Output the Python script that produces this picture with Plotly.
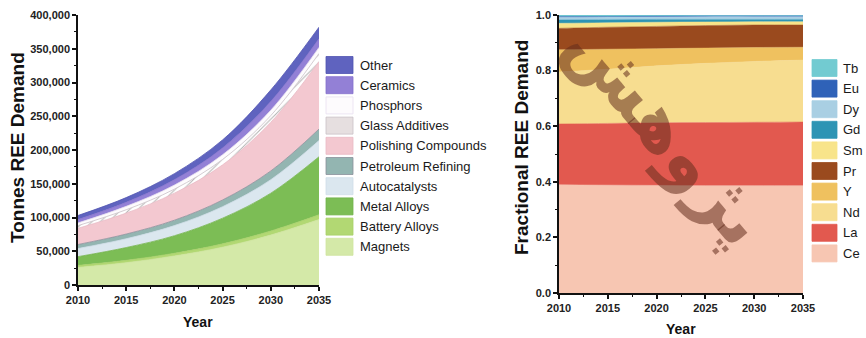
import plotly.graph_objects as go

# ---- data -----------------------------------------------------------------
years = [2010, 2015, 2020, 2025, 2030, 2035]

# Tonnes of rare-earth demand by end use (stacked, bottom to top)
magnets = [26000, 33000, 43000, 56000, 74000, 97000]
battery_alloys = [3000, 3500, 4000, 5000, 6000, 7000]
metal_alloys = [13000, 19000, 26000, 38000, 56000, 86000]
autocatalysts = [12000, 13000, 15000, 17000, 20000, 24000]
petroleum_refining = [6000, 7000, 8000, 10000, 13000, 17000]
polishing_compounds = [24000, 31000, 40000, 52000, 72000, 100000]
glass_additives = [4000, 5000, 6000, 8000, 10000, 12000]
phosphors = [4000, 5000, 6000, 7000, 8000, 9000]
ceramics = [5000, 6000, 8000, 10000, 13000, 13000]
other = [6000, 7000, 9000, 12000, 17000, 17000]

# Fraction of total demand by element (stacked, bottom to top)
ce = [0.389, 0.388, 0.387, 0.386, 0.386, 0.386]
la = [0.219, 0.222, 0.225, 0.227, 0.228, 0.229]
nd = [0.187, 0.195, 0.205, 0.213, 0.219, 0.223]
y_el = [0.080, 0.072, 0.062, 0.055, 0.050, 0.046]
pr = [0.077, 0.079, 0.080, 0.081, 0.081, 0.080]
sm = [0.018, 0.016, 0.015, 0.013, 0.012, 0.012]
gd = [0.012, 0.011, 0.010, 0.009, 0.008, 0.008]
dy = [0.010, 0.010, 0.010, 0.011, 0.011, 0.011]
eu = [0.003, 0.002, 0.002, 0.002, 0.002, 0.002]
tb = [0.005, 0.005, 0.004, 0.003, 0.003, 0.003]

use_names = ["Magnets", "Battery Alloys", "Metal Alloys", "Autocatalysts",
             "Petroleum Refining", "Polishing Compounds", "Glass Additives",
             "Phosphors", "Ceramics", "Other"]
use_values = [magnets, battery_alloys, metal_alloys, autocatalysts,
              petroleum_refining, polishing_compounds, glass_additives,
              phosphors, ceramics, other]
use_colors = ["#d4e9a8", "#b2d873", "#7cbd55", "#dbe7ef", "#93b5b1",
              "#f3c8d0", "#ffffff", "#fdfbfd", "#9380d6", "#5f63bf"]
use_lines = ["#cfe4a0", "#a8d068", "#72b34b", "#cfdde8", "#8a8f9a",
             "#e9b9c4", "#c9c0c6", "#e8e0f0", "#8470cc", "#4f53b0"]

element_names = ["Ce", "La", "Nd", "Y", "Pr", "Sm", "Gd", "Dy", "Eu", "Tb"]
element_values = [ce, la, nd, y_el, pr, sm, gd, dy, eu, tb]
element_colors = ["#f7c6b2", "#e2594f", "#f7dd90", "#efc15f", "#9a4a1e",
                  "#f8e48a", "#2d94b4", "#a9cfe3", "#2f62b8", "#72cbd1"]

FONT = "Liberation Sans, Arial, sans-serif"
W, H = 866, 338

fig = go.Figure()

# ---- left panel: tonnes by use --------------------------------------------
for name, vals, col, lc in zip(use_names, use_values, use_colors, use_lines):
    kw = {}
    if name == "Glass Additives":
        kw["fillpattern"] = dict(shape="/", fgcolor="#6e6a6a", bgcolor="#ffffff",
                                 size=6, solidity=0.18)
    fig.add_trace(go.Scatter(
        x=years, y=vals, name=name, mode="lines", stackgroup="uses",
        line=dict(color=lc, width=0.8, shape="spline"),
        fillcolor=col, showlegend=False, xaxis="x", yaxis="y", **kw))

# ---- right panel: fractional demand by element -----------------------------
for name, vals, col in zip(element_names, element_values, element_colors):
    fig.add_trace(go.Scatter(
        x=years, y=vals, name=name, mode="lines", stackgroup="elements",
        line=dict(color=col, width=0.5, shape="spline"),
        fillcolor=col, showlegend=False, xaxis="x2", yaxis="y2"))

tick_font = dict(family=FONT, size=11, color="#222", weight="bold")
title_font = dict(family=FONT, size=19, color="#111", weight="bold")
xtitle_font = dict(family=FONT, size=14, color="#111", weight="bold")


def px_x(p):
    return p / W


def px_y(p):
    return 1 - p / H


common_axis = dict(showgrid=False, zeroline=False, showline=True,
                   linecolor="#111", linewidth=1.6, ticks="outside",
                   ticklen=4, tickwidth=1.5, tickcolor="#111",
                   tickfont=tick_font, automargin=False)
minor_ticks = dict(ticks="outside", ticklen=2.5, tickcolor="#111", tickwidth=1.2)

fig.update_layout(
    width=W, height=H, margin=dict(l=0, r=0, t=0, b=0, autoexpand=False),
    paper_bgcolor="white", plot_bgcolor="white", showlegend=False,
    xaxis=dict(domain=[px_x(78), px_x(319)], range=[2010, 2035],
               tickvals=[2010, 2015, 2020, 2025, 2030, 2035],
               minor=dict(dtick=2.5, **minor_ticks),
               anchor="y", **common_axis),
    yaxis=dict(domain=[px_y(285), px_y(15)], range=[0, 400000],
               dtick=50000, tickformat=",",
               minor=dict(dtick=25000, **minor_ticks),
               anchor="x", **common_axis),
    xaxis2=dict(domain=[px_x(559), px_x(803)], range=[2010, 2035],
                tickvals=[2010, 2015, 2020, 2025, 2030, 2035],
                minor=dict(dtick=2.5, **minor_ticks),
                anchor="y2", **common_axis),
    yaxis2=dict(domain=[px_y(293), px_y(15)], range=[0, 1.0],
                dtick=0.2, tickformat=".1f",
                minor=dict(dtick=0.1, **minor_ticks),
                anchor="x2", **common_axis),
)


def label(text, x, y, font, angle=0, xanchor="center"):
    fig.add_annotation(text=text, textangle=angle, x=px_x(x), y=px_y(y),
                       xref="paper", yref="paper", xanchor=xanchor, yanchor="middle",
                       showarrow=False, font=font)


# axis titles
label("Tonnes REE Demand", 17, 148, title_font, angle=-90)
label("Year", 198, 322, xtitle_font)
label("Fractional REE Demand", 521, 148, title_font, angle=-90)
label("Year", 681, 329, xtitle_font)


# ---- legends (drawn as swatches + labels, top entry = top of stack) --------
def legend(names, colors, borders, x0, sw, top, pitch, tx, fsize, hatch=None):
    for i, (nm, c, b) in enumerate(zip(reversed(names), reversed(colors), reversed(borders))):
        cy = top + i * pitch
        fill = c
        if hatch and nm == hatch:
            fill = "#e6dfe0"
        fig.add_shape(type="rect", xref="paper", yref="paper",
                      x0=px_x(x0), x1=px_x(x0 + sw),
                      y0=px_y(cy + 8.5), y1=px_y(cy - 8.5),
                      fillcolor=fill, line=dict(color=b, width=0.8))
        label(nm, tx, cy, dict(family=FONT, size=fsize, color="#1a1a1a"), xanchor="left")


legend(use_names, use_colors, use_lines, 326, 27, 65, 20.2, 358, 13, hatch="Glass Additives")
legend(element_names, element_colors, element_colors, 812, 25, 68, 20.6, 841, 13)

# diagonal watermark across the right panel
label("پژوهش", 668, 132,
      dict(family="DejaVu Sans", size=72, color="rgba(100,45,30,0.55)", weight="bold"),
      angle=50)

fig.write_html("out.html")
